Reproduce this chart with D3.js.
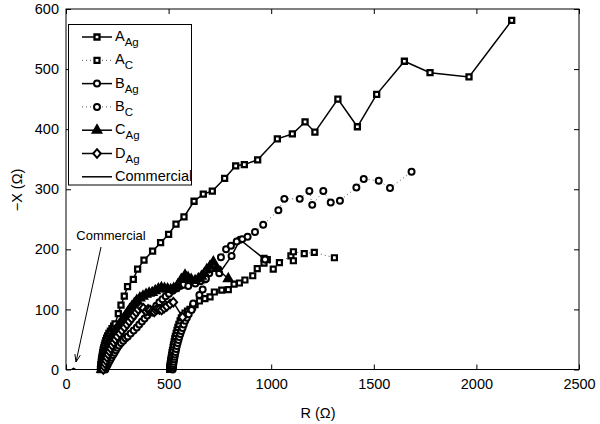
<!DOCTYPE html>
<html><head><meta charset="utf-8">
<script src="https://cdn.jsdelivr.net/npm/d3@7"></script>
<style>
html,body{margin:0;padding:0;background:#fff;}
svg{display:block;font-family:"Liberation Sans",Arial,Helvetica,sans-serif;}
</style></head>
<body><svg id="c" width="600" height="424"></svg>
<script>
// ---- data (R, -X) in ohms ----
const A_Ag = [[168,0],[169,4],[170,8],[172,12],[173,16],[175,20],[177,24],[179,28],[181,32],[184,36],[187,40],[190,44],[194,48],[198,52],[203,56],[209,60],[216,64],[224,68],[232,72],[239,76],[255,93],[268,107],[284,122],[300,138],[328,150],[349,167],[380,182],[422,197],[461,211],[500,225],[536,242],[575,254],[624,280],[669,292],[713,297],[773,318],[827,339],[869,341],[934,349],[1030,384],[1103,392],[1165,412],[1213,395],[1325,450],[1420,404],[1514,458],[1649,513],[1774,494],[1964,487],[2172,581]];
const A_C = [[505,0],[506,3],[507,6],[508,9],[510,13],[511,16],[513,20],[515,24],[517,28],[519,32],[522,37],[524,41],[527,46],[530,51],[533,55],[537,60],[541,65],[545,70],[550,75],[556,81],[562,86],[570,90],[580,94],[592,97],[604,100],[617,104],[629,108],[650,114],[677,118],[702,121],[723,129],[759,132],[791,133],[819,142],[845,144],[872,149],[910,156],[932,168],[965,177],[965,185],[981,183],[1010,167],[1040,178],[1096,189],[1108,181],[1108,196],[1161,193],[1210,195],[1308,186]];
const B_Ag = [[192,0],[197,4],[203,8],[209,12],[215,16],[222,20],[229,24],[236,28],[243,32],[250,36],[258,40],[268,44],[279,48],[290,52],[301,55],[315,60],[330,65],[345,70],[357,75],[370,80],[383,85],[396,90],[410,95],[425,100],[440,106],[455,112],[470,117],[486,122],[502,126],[520,131],[539,135],[556,139],[572,141],[596,139],[630,143],[655,147],[677,150],[698,160],[742,167],[747,160],[807,189],[848,216],[970,183]];
const B_C = [[520,0],[521,3],[522,6],[523,9],[525,13],[527,17],[529,21],[531,25],[534,29],[537,34],[540,39],[544,44],[548,49],[552,54],[557,59],[562,64],[568,69],[574,75],[581,81],[589,86],[598,92],[612,99],[620,110],[650,124],[666,133],[682,151],[755,187],[780,200],[804,206],[832,213],[859,217],[885,221],[921,229],[961,241],[1035,265],[1064,284],[1139,284],[1186,297],[1200,274],[1254,297],[1290,278],[1335,281],[1415,303],[1451,317],[1524,314],[1579,302],[1684,329]];
const C_Ag = [[174,0],[176,5],[179,10],[182,15],[185,20],[190,25],[195,30],[200,35],[205,40],[211,45],[216,50],[222,55],[231,60],[240,65],[250,70],[260,75],[270,80],[280,85],[290,90],[300,95],[310,100],[321,105],[333,110],[345,115],[360,119],[375,122],[390,125],[405,127],[420,128],[435,131],[450,134],[465,136],[480,135],[495,134],[510,133],[525,135],[545,141],[562,150],[580,157],[595,153],[610,150],[629,148],[645,151],[660,155],[674,160],[686,166],[702,172],[718,179],[735,168],[791,151]];
const D_Ag = [[182,0],[186,5],[190,10],[195,15],[200,20],[206,25],[212,30],[218,35],[225,40],[233,45],[241,50],[250,55],[262,60],[273,65],[285,70],[297,75],[308,80],[320,85],[331,90],[342,95],[352,100],[365,104],[377,102],[390,97],[400,100],[409,99],[420,97],[430,96],[438,99],[445,101],[455,100],[466,99],[478,102],[491,105],[507,109],[523,112],[568,87]];
const Commercial = [[28,0],[32,1],[37,2],[42,1],[45,0]];
const xTicks = [0,500,1000,1500,2000,2500];
const yTicks = [0,100,200,300,400,500,600];
const legendLabels = [["A","Ag"],["A","C"],["B","Ag"],["B","C"],["C","Ag"],["D","Ag"],["Commercial",""]];

const svg = d3.select("#c");
const L=66,R=579,T=9,B=369.5;
const x = d3.scaleLinear().domain([0,2500]).range([L,R]);
const y = d3.scaleLinear().domain([0,600]).range([B,T]);

svg.append("rect").attr("x",L).attr("y",T).attr("width",R-L).attr("height",B-T)
  .attr("fill","none").attr("stroke","#000").attr("stroke-width",1);

const fmt = d3.format("d");
const gx = svg.append("g").attr("transform",`translate(0,${B})`)
  .call(d3.axisBottom(x).tickValues(xTicks).tickFormat(fmt).tickSizeInner(-5).tickSizeOuter(0).tickPadding(9));
const gxt = svg.append("g").attr("transform",`translate(0,${T})`)
  .call(d3.axisTop(x).tickValues(xTicks).tickSizeInner(-5).tickSizeOuter(0).tickFormat(""));
const gy = svg.append("g").attr("transform",`translate(${L},0)`)
  .call(d3.axisLeft(y).tickValues(yTicks).tickFormat(fmt).tickSizeInner(-5).tickSizeOuter(0).tickPadding(7));
const gyr = svg.append("g").attr("transform",`translate(${R},0)`)
  .call(d3.axisRight(y).tickValues(yTicks).tickSizeInner(-5).tickSizeOuter(0).tickFormat(""));
[gx,gxt,gy,gyr].forEach(g=>{
  g.select(".domain").remove();
  g.selectAll("text").attr("font-size",14.5).attr("font-family","Liberation Sans, Arial, sans-serif").attr("fill","#000");
  g.selectAll("line").attr("stroke","#000");
});

svg.append("text").attr("x",318).attr("y",418).attr("text-anchor","middle")
  .attr("font-size",14.5).text("R (Ω)");
svg.append("text").attr("transform","translate(22,190) rotate(-90)").attr("text-anchor","middle")
  .attr("font-size",14.5).text("−X (Ω)");

const line = d3.line().x(d=>x(d[0])).y(d=>y(d[1]));
const sqr = d3.symbol().type(d3.symbolSquare).size(25)();
const circ = d3.symbol().type(d3.symbolCircle).size(28)();
const tri = d3.symbol().type(d3.symbolTriangle).size(40)();
const dia = "M0,-4.3L3.8,0L0,4.3L-3.8,0Z";

const series = [
  {data:A_Ag, dotted:false, shape:sqr, fill:"#fff", sw:2.3},
  {data:A_C, dotted:true, shape:sqr, fill:"#fff", sw:2.2},
  {data:B_Ag, dotted:false, shape:circ, fill:"#fff", sw:2},
  {data:B_C, dotted:true, shape:circ, fill:"#fff", sw:2},
  {data:C_Ag, dotted:false, shape:tri, fill:"#000", sw:1.4},
  {data:D_Ag, dotted:false, shape:dia, fill:"#fff", sw:2},
  {data:Commercial, dotted:false, shape:null}
];

const plot = svg.append("g");
series.forEach(s=>{
  plot.append("path").attr("d",line(s.data)).attr("fill","none")
    .attr("stroke", s.dotted ? "#555" : "#000")
    .attr("stroke-width", s.dotted ? 1 : 1.5)
    .attr("stroke-dasharray", s.dotted ? "1,3" : null);
  if (s.shape) {
    plot.selectAll(null).data(s.data).enter().append("path")
      .attr("d", s.shape)
      .attr("transform", d=>`translate(${x(d[0])},${y(d[1])})`)
      .attr("fill", s.fill).attr("stroke","#000").attr("stroke-width", s.sw);
  }
});

// annotation
svg.append("text").attr("x",111).attr("y",240).attr("text-anchor","middle")
  .attr("font-size",13).text("Commercial");
svg.append("line").attr("x1",101).attr("y1",247).attr("x2",76).attr("y2",362)
  .attr("stroke","#000").attr("stroke-width",1);
(function(){
  const ang = Math.atan2(362-247, 76-101);
  const hl = 8, ha = 0.35;
  const p1 = [76 - hl*Math.cos(ang-ha), 362 - hl*Math.sin(ang-ha)];
  const p2 = [76 - hl*Math.cos(ang+ha), 362 - hl*Math.sin(ang+ha)];
  svg.append("path").attr("d",`M${p1[0]},${p1[1]}L76,362L${p2[0]},${p2[1]}`)
    .attr("fill","none").attr("stroke","#000").attr("stroke-width",1);
})();

// legend
const lg = svg.append("g");
lg.append("rect").attr("x",68.5).attr("y",24.5).attr("width",123).attr("height",160.5)
  .attr("fill","#fff").attr("stroke","#000").attr("stroke-width",1);
series.forEach((s,i)=>{
  const cy = 37 + i*23.3;
  lg.append("line").attr("x1",82).attr("x2",112).attr("y1",cy).attr("y2",cy)
    .attr("stroke", s.dotted ? "#555" : "#000")
    .attr("stroke-width", s.dotted ? 1 : 1.5)
    .attr("stroke-dasharray", s.dotted ? "1,3" : null);
  if (s.shape) lg.append("path").attr("d",s.shape).attr("transform",`translate(97,${cy})`)
    .attr("fill",s.fill).attr("stroke","#000").attr("stroke-width",s.sw);
  const t = lg.append("text").attr("x",115).attr("y",cy+4).attr("font-size",14.5);
  t.append("tspan").text(legendLabels[i][0]);
  if (legendLabels[i][1]) t.append("tspan").attr("dy",5).attr("font-size",11.5).text(legendLabels[i][1]);
});
</script></body></html>
